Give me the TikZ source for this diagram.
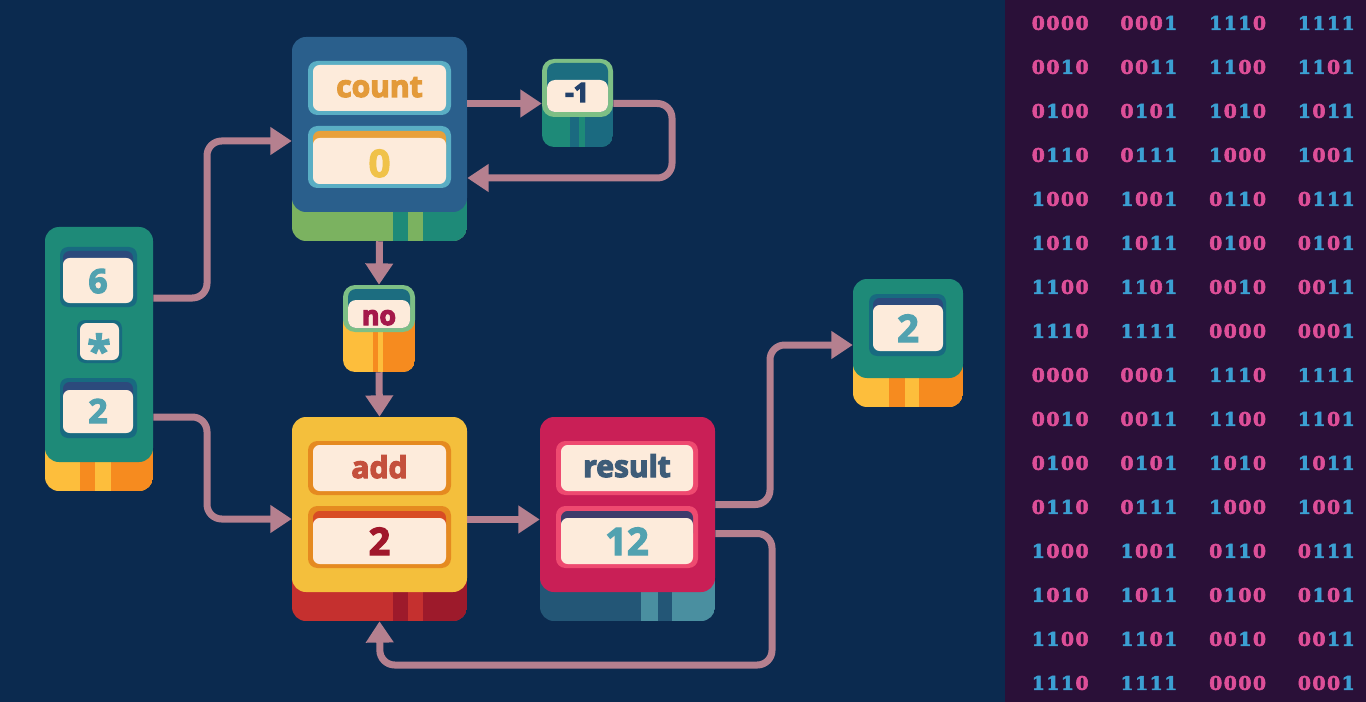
\documentclass[tikz,border=0pt]{standalone}
\usepackage{fontspec}
\setmainfont{Open Sans}
\newfontfamily\binfont{DejaVu Serif}
\usetikzlibrary{arrows.meta,calc}
\definecolor{bg}{HTML}{0B2A4F}
\definecolor{panel}{HTML}{2A1038}
\definecolor{binpink}{HTML}{DD4F98}
\definecolor{binblue}{HTML}{3B9FD2}
\definecolor{arrowc}{HTML}{B5808F}
\definecolor{cream}{HTML}{FDEBDB}
\definecolor{cblue}{HTML}{2A5F8C}
\definecolor{cgreen}{HTML}{7BB260}
\definecolor{cteal}{HTML}{1E8A78}
\definecolor{cborder}{HTML}{5AAEC4}
\definecolor{ctext}{HTML}{E39A3A}
\definecolor{corange}{HTML}{E8A03A}
\definecolor{cyellow}{HTML}{F0C24A}
\definecolor{sgreen}{HTML}{1E8A78}
\definecolor{sdark}{HTML}{186A80}
\definecolor{snavy}{HTML}{2C4A7C}
\definecolor{stext}{HTML}{52A2B0}
\definecolor{yel}{HTML}{FDBE3C}
\definecolor{org}{HTML}{F68B1F}
\definecolor{fgreen}{HTML}{7DBF85}
\definecolor{fteal}{HTML}{1C6D80}
\definecolor{mdark}{HTML}{1B6A80}
\definecolor{mtext}{HTML}{22406A}
\definecolor{notext}{HTML}{A5194A}
\definecolor{ayellow}{HTML}{F4BF3C}
\definecolor{ared}{HTML}{C5302F}
\definecolor{adark}{HTML}{9D1A2B}
\definecolor{aborder}{HTML}{E58A20}
\definecolor{atext}{HTML}{C4503C}
\definecolor{abar}{HTML}{D84C24}
\definecolor{avtext}{HTML}{A0172B}
\definecolor{rcrim}{HTML}{C91F56}
\definecolor{rborder}{HTML}{EE4A70}
\definecolor{rtext}{HTML}{3E5C78}
\definecolor{rbar}{HTML}{3E3B6B}
\definecolor{rdark}{HTML}{235676}
\definecolor{rlight}{HTML}{4A8FA0}
\newcommand\heavy[1]{\special{pdf:literal direct 2 Tr 0.9 w}#1\special{pdf:literal direct 0 Tr 0.4 w}}
\newcommand\heavyb[1]{\special{pdf:literal direct 2 Tr 0.45 w}#1\special{pdf:literal direct 0 Tr 0.4 w}}
\def\bits#1{\edef\bitstmp{#1}\expandafter\bitsi\bitstmp\relax}
\def\bitsi#1{\ifx\relax#1\else\bitd{#1}\expandafter\bitsi\fi}
\def\bitd#1{\if0#1\textcolor{binpink}{\heavyb{0}}\else\textcolor{binblue}{\heavyb{1}}\fi\kern1.2pt}
\tikzset{
  box/.style={rectangle, inner sep=0pt, rounded corners=10.5pt, fill=#1},
  conn/.style={draw=arrowc, line width=5.25pt, rounded corners=11pt, -{Triangle[length=16pt,width=20pt]}},
  lbl/.style={inner sep=0pt, anchor=base, font=\bfseries\fontsize{22.5}{24}\selectfont},
  val/.style={inner sep=0pt, anchor=base, font=\bfseries\fontsize{28.5}{30}\selectfont},
  sval/.style={inner sep=0pt, anchor=base, font=\bfseries\fontsize{25}{26}\selectfont, text=stext},
  bin/.style={inner sep=0pt, font=\binfont\bfseries\fontsize{14}{15}\selectfont},
}
\begin{document}
\begin{tikzpicture}[x=0.75pt,y=-0.75pt]
\useasboundingbox (0,0) rectangle (1366,702);
\fill[bg] (0,0) rectangle (1366,702);
\fill[panel] (1005,0) rectangle (1366,702);

% binary panel
\foreach \row [count=\r from 0] in {{0000,0001,1110,1111},{0010,0011,1100,1101},{0100,0101,1010,1011},{0110,0111,1000,1001},{1000,1001,0110,0111},{1010,1011,0100,0101},{1100,1101,0010,0011},{1110,1111,0000,0001},{0000,0001,1110,1111},{0010,0011,1100,1101},{0100,0101,1010,1011},{0110,0111,1000,1001},{1000,1001,0110,0111},{1010,1011,0100,0101},{1100,1101,0010,0011},{1110,1111,0000,0001}}{
  \foreach \v [count=\c from 0] in \row {
    \node[bin] (b\r-\c) at ({1061+\c*88.7},{23+\r*44}) {\bits{\v}};
  }
}

% ---- count block
\begin{scope}
 \clip[rounded corners=10.5pt] (292,150) rectangle (467,241);
 \fill[cgreen] (292,150) rectangle (467,241);
 \fill[cteal] (393,150) rectangle (408,241);
 \fill[cteal] (423,150) rectangle (467,241);
\end{scope}
\node[box=cblue, minimum width=131.25pt, minimum height=131.25pt] (count) at (379.5,124.5) {};
\fill[cborder, rounded corners=7pt] (308,61) rectangle (451,115);
\fill[cream, rounded corners=5pt] (313,65) rectangle (446,111);
\node[lbl, text=ctext] (countl) at (379.5,97) {\heavy{count}};
\fill[cborder, rounded corners=7pt] (308,126) rectangle (451,188);
\fill[corange, rounded corners=5pt] (313,131) rectangle (446,160);
\fill[cream, rounded corners=5pt] (313,138) rectangle (446,184);
\node[val, text=cyellow] (countv) at (379.5,177) {\heavy{0}};

% ---- -1 block
\begin{scope}
 \clip[rounded corners=9pt] (542,90) rectangle (613,147);
 \fill[sgreen] (542,90) rectangle (613,147);
 \fill[mdark] (570,90) rectangle (579,147);
 \fill[mdark] (585,90) rectangle (613,147);
\end{scope}
\node[box=fgreen, rounded corners=9pt, minimum width=53.25pt, minimum height=43.5pt] (minus) at (577.5,88) {};
\fill[fteal, rounded corners=6pt] (547,63) rectangle (608,112);
\fill[cream, rounded corners=6pt] (547,80) rectangle (608,112);
\node[inner sep=0pt, anchor=base, font=\bfseries\fontsize{20}{22}\selectfont, text=mtext] (minusl) at (577,102) {\heavy{-1}};

% ---- 6*2 block
\begin{scope}
 \clip[rounded corners=10.5pt] (45,400) rectangle (153,491);
 \fill[yel] (45,400) rectangle (153,491);
 \fill[org] (80,400) rectangle (95,491);
 \fill[org] (111,400) rectangle (153,491);
\end{scope}
\node[box=sgreen, minimum width=81pt, minimum height=176.25pt] (six) at (99,344.5) {};
\fill[sdark, rounded corners=6pt] (60,247) rectangle (137,307);
\fill[snavy, rounded corners=5pt] (63,251) rectangle (133,285);
\fill[cream, rounded corners=5pt] (63,258) rectangle (133,303);
\node[sval] (sixa) at (98,293) {\heavy{6}};
\fill[sdark, rounded corners=6pt] (77,320) rectangle (122,363);
\fill[cream, rounded corners=5pt] (80,323) rectangle (119,360);
\node[inner sep=0pt, anchor=base, font=\bfseries\fontsize{32}{34}\selectfont, text=stext] (sixop) at (99,366) {\heavy{*}};
\fill[sdark, rounded corners=6pt] (60,378) rectangle (137,438);
\fill[snavy, rounded corners=5pt] (63,382) rectangle (133,415);
\fill[cream, rounded corners=5pt] (63,390) rectangle (133,433);
\node[sval] (sixb) at (98,423) {\heavy{2}};

% ---- no block
\begin{scope}
 \clip[rounded corners=9pt] (343,310) rectangle (415,372);
 \fill[yel] (343,310) rectangle (415,372);
 \fill[org] (373,310) rectangle (378,372);
 \fill[org] (383,310) rectangle (415,372);
\end{scope}
\node[box=fgreen, rounded corners=9pt, minimum width=54pt, minimum height=35.25pt] (no) at (379,308.5) {};
\fill[fteal, rounded corners=6pt] (348,289) rectangle (410,328);
\fill[cream, rounded corners=6pt] (348,300) rectangle (410,328);
\node[inner sep=0pt, anchor=base, font=\bfseries\fontsize{20}{22}\selectfont, text=notext] (nol) at (379,325) {\heavy{no}};

% ---- add block
\begin{scope}
 \clip[rounded corners=10.5pt] (292,530) rectangle (467,621);
 \fill[ared] (292,530) rectangle (467,621);
 \fill[adark] (393,530) rectangle (408,621);
 \fill[adark] (423,530) rectangle (467,621);
\end{scope}
\node[box=ayellow, minimum width=131.25pt, minimum height=131.25pt] (add) at (379.5,504.5) {};
\fill[aborder, rounded corners=7pt] (308,441) rectangle (451,495);
\fill[cream, rounded corners=5pt] (313,445) rectangle (446,491);
\node[lbl, text=atext] (addl) at (379.5,478) {\heavy{add}};
\fill[aborder, rounded corners=7pt] (308,506) rectangle (451,568);
\fill[abar, rounded corners=5pt] (313,511) rectangle (446,540);
\fill[cream, rounded corners=5pt] (313,518) rectangle (446,564);
\node[val, text=avtext] (addv) at (379.5,555) {\heavy{2}};

% ---- result block
\begin{scope}
 \clip[rounded corners=10.5pt] (540,530) rectangle (715,621);
 \fill[rdark] (540,530) rectangle (715,621);
 \fill[rlight] (641,530) rectangle (658,621);
 \fill[rlight] (672,530) rectangle (715,621);
\end{scope}
\node[box=rcrim, minimum width=131.25pt, minimum height=131.25pt] (result) at (627.5,504.5) {};
\fill[rborder, rounded corners=7pt] (556,441) rectangle (698,495);
\fill[cream, rounded corners=5pt] (561,445) rectangle (693,491);
\node[lbl, text=rtext] (resultl) at (627,477) {\heavy{result}};
\fill[rborder, rounded corners=7pt] (556,506) rectangle (698,568);
\fill[rbar, rounded corners=5pt] (561,511) rectangle (693,540);
\fill[cream, rounded corners=5pt] (561,518) rectangle (693,564);
\node[val, text=stext] (resultv) at (627,555) {\heavy{12}};

% ---- output block
\begin{scope}
 \clip[rounded corners=10.5pt] (853,330) rectangle (963,407);
 \fill[yel] (853,330) rectangle (963,407);
 \fill[org] (889,330) rectangle (905,407);
 \fill[org] (919,330) rectangle (963,407);
\end{scope}
\node[box=sgreen, minimum width=82.5pt, minimum height=74.25pt] (out) at (908,328.5) {};
\fill[sdark, rounded corners=6pt] (869,294) rectangle (946,356);
\fill[snavy, rounded corners=5pt] (873,298) rectangle (943,330);
\fill[cream, rounded corners=5pt] (873,305) rectangle (943,351);
\node[val, text=stext] (outv) at (908,342) {\heavy{2}};

% ---- connectors
\draw[conn] ($(six.east)+(0,-46.5)$) -- (207,298) -- (207,141) -- ($(count.west)+(0,16.5)$);
\draw[conn] ($(six.east)+(0,72.5)$) -- (207,417) -- (207,519) -- ($(add.west)+(0,14.5)$);
\draw[conn] ($(count.east)+(0,-21)$) -- ($(minus.west)+(0,15.5)$);
\draw[conn] ($(minus.east)+(0,15.5)$) -- (672,103.5) -- (672,178) -- ($(count.east)+(0,53.5)$);
\draw[conn] ($(count.south)+(0,29)$) -- (no.north);
\draw[conn] ($(no.south)+(0,40)$) -- (add.north);
\draw[conn] ($(add.east)+(0,15)$) -- ($(result.west)+(0,15)$);
\draw[conn] (result.east) -- (770,504.5) -- (770,345) -- ($(out.west)+(0,16.5)$);
\draw[conn] ($(result.east)+(0,29)$) -- (772,533.5) -- (772,665) -- (380,665) -- ($(add.south)+(0,29)$);
\end{tikzpicture}
\end{document}
